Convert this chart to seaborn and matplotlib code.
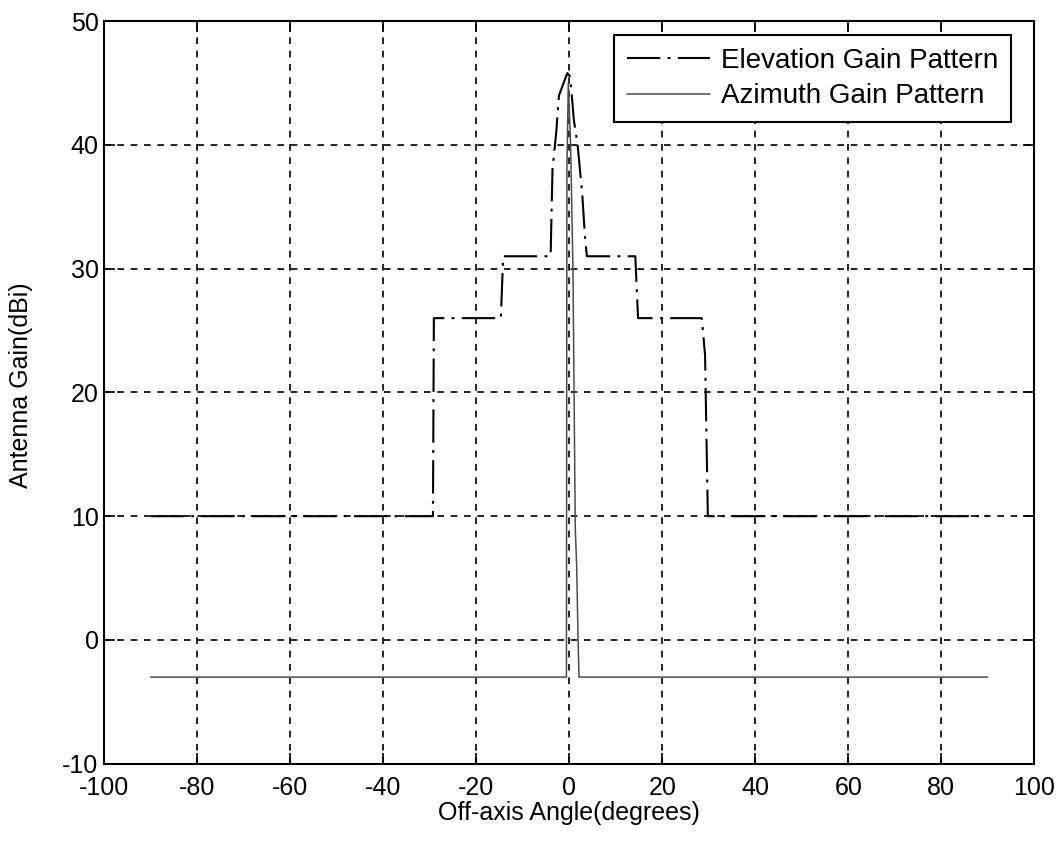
import numpy as np
import pandas as pd
import matplotlib
matplotlib.use('Agg')
import matplotlib.pyplot as plt
import seaborn as sns

# elevation gain pattern (stepped), degrees / dBi
elev_angle = [-90, -29.3, -29.1, -14.7, -14.2, -4.0, -3.6, -2.8, -2.2, -0.4,
              0.2, 1.0, 1.8, 2.8, 3.4, 3.8, 14.2, 14.8, 28.5, 29.2, 29.8, 90]
elev_gain = [10, 10, 26, 26, 31, 31, 38, 41, 44, 45.8,
             45.5, 42, 40, 36, 32.5, 31, 31, 26, 26, 23, 10, 10]

# azimuth gain pattern (narrow beam)
azim_angle = [-90, -0.6, -0.5, -0.2, 0.3, 0.8, 1.3, 1.6, 1.9, 2.1, 90]
azim_gain = [-3, -3, 38, 45, 40, 30, 9, 6, 0, -3, -3]

x_ticks = [-100, -80, -60, -40, -20, 0, 20, 40, 60, 80, 100]
y_ticks = [-10, 0, 10, 20, 30, 40, 50]

sns.set_style('white')
plt.rcParams['font.family'] = ['Liberation Sans', 'DejaVu Sans']
plt.rcParams['axes.unicode_minus'] = False
plt.rcParams['text.color'] = 'black'
plt.rcParams['axes.labelcolor'] = 'black'
plt.rcParams['xtick.color'] = 'black'
plt.rcParams['ytick.color'] = 'black'

fig = plt.figure(figsize=(10.62, 8.43), dpi=100)
ax = fig.add_axes([0.098, 0.094, 0.876, 0.881])

elev = pd.DataFrame({'angle': elev_angle, 'gain': elev_gain})
azim = pd.DataFrame({'angle': azim_angle, 'gain': azim_gain})

sns.lineplot(data=elev, x='angle', y='gain', sort=False, estimator=None,
             color='black', lw=1.5, ax=ax, label='Elevation Gain Pattern')
ax.lines[-1].set_dashes((16, 3.5, 1.4, 3.5))
sns.lineplot(data=azim, x='angle', y='gain', sort=False, estimator=None,
             color='0.3', lw=1.1, ax=ax, label='Azimuth Gain Pattern')

ax.set_xlim(-100, 100)
ax.set_ylim(-10, 50)
ax.set_xticks(x_ticks)
ax.set_yticks(y_ticks)
ax.grid(True, color='black', linestyle=(0, (4, 4)), lw=1.2)
ax.tick_params(direction='in', length=8, width=1.2, labelsize=18, pad=4,
               top=True, right=True, bottom=True, left=True)
ax.tick_params(axis='x', pad=9)
for s in ax.spines.values():
    s.set_color('black')
    s.set_linewidth(1.5)

ax.set_xlabel('Off-axis Angle(degrees)', fontsize=18)
ax.set_ylabel('Antenna Gain(dBi)', fontsize=18)
ax.xaxis.set_label_coords(0.5, -0.05)
ax.yaxis.set_label_coords(-0.076, 0.51)

leg = ax.legend(loc='upper right', bbox_to_anchor=(0.975, 0.981),
                fontsize=20, fancybox=False, framealpha=1, edgecolor='black',
                handlelength=3.0, handletextpad=0.4, borderaxespad=0,
                borderpad=0.45, labelspacing=0.35)
leg.get_frame().set_linewidth(1.5)

fig.savefig('out.png', dpi=100)
